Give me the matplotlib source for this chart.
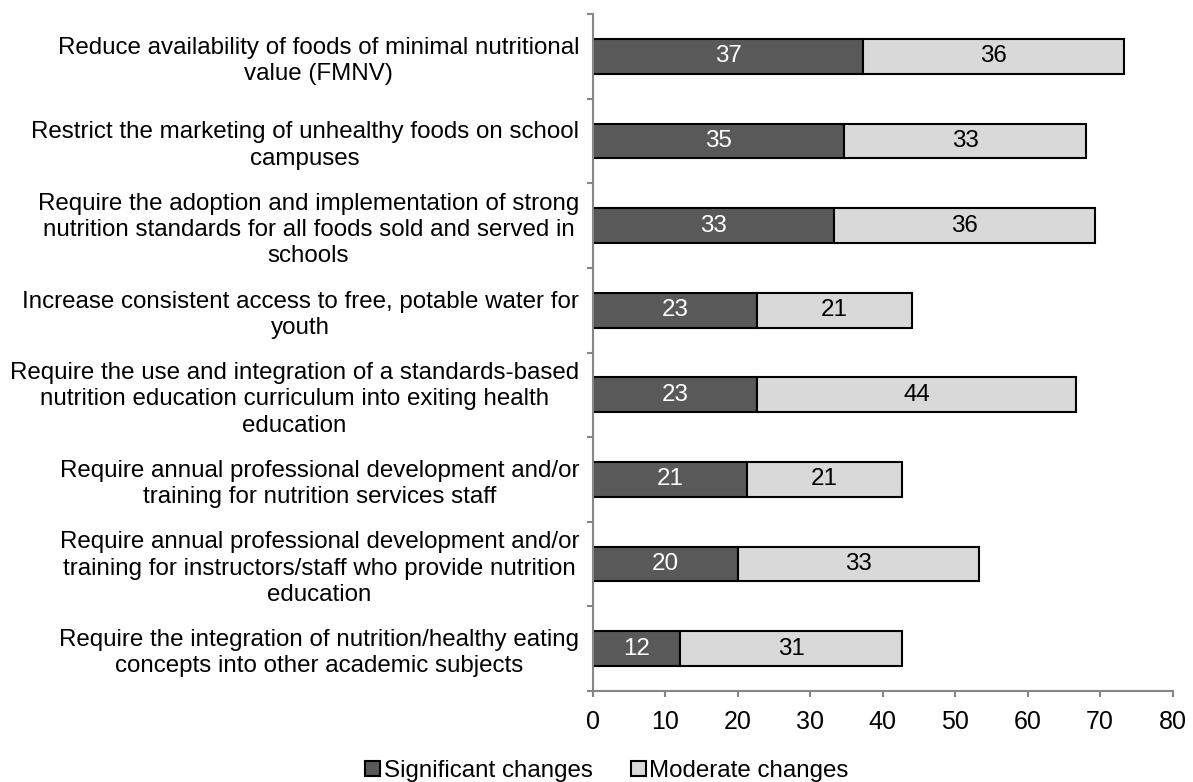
import matplotlib
matplotlib.use("Agg")
import matplotlib.pyplot as plt
import numpy as np

plt.rcParams['font.family'] = ['Liberation Sans', 'DejaVu Sans']

categories = [
    "Reduce availability of foods of minimal nutritional\nvalue (FMNV)",
    "Restrict the marketing of unhealthy foods on school\ncampuses",
    "Require the adoption and implementation of strong\nnutrition standards for all foods sold and served in\nschools",
    "Increase consistent access to free, potable water for\nyouth",
    "Require the use and integration of a standards-based\nnutrition education curriculum into exiting health\neducation",
    "Require annual professional development and/or\ntraining for nutrition services staff",
    "Require annual professional development and/or\ntraining for instructors/staff who provide nutrition\neducation",
    "Require the integration of nutrition/healthy eating\nconcepts into other academic subjects",
]
significant = [37.3, 34.7, 33.3, 22.7, 22.7, 21.3, 20.0, 12.0]
moderate = [36.0, 33.3, 36.0, 21.3, 44.0, 21.3, 33.3, 30.7]
x_ticks = [0, 10, 20, 30, 40, 50, 60, 70, 80]

dark = "#595959"
light = "#d9d9d9"
axis_gray = "#868686"
fs = 17.4

W, H = 1193, 782
fig = plt.figure(figsize=(W / 100, H / 100), dpi=100)
ax = fig.add_axes([593 / W, 1 - 691 / H, (1172.5 - 593) / W, (691 - 14) / H])

n = len(categories)
y = np.arange(n)
h = 0.41
sig = np.array(significant)
mod = np.array(moderate)

b1 = ax.barh(y, sig, height=h, color=dark, edgecolor="black", linewidth=1.5,
             label="Significant changes")
b2 = ax.barh(y, mod, left=sig, height=h, color=light, edgecolor="black", linewidth=1.5,
             label="Moderate changes")

for yi, s, m in zip(y, sig, mod):
    ax.text(s / 2, yi, f"{s:.0f}", ha="center", va="center", color="white", fontsize=fs)
    ax.text(s + m / 2, yi, f"{m:.0f}", ha="center", va="center", color="black", fontsize=fs)

ax.set_xlim(0, 80)
ax.set_ylim(n - 0.5, -0.5)
ax.set_xticks(x_ticks)
ax.set_xticklabels([str(t) for t in x_ticks], fontsize=fs + 0.6)

# category boundaries get tick marks, centres carry the labels
ax.set_yticks(np.arange(-0.5, n, 1.0))
ax.set_yticklabels([])
ax.set_yticks(y, minor=True)
ax.set_yticklabels(categories, minor=True, fontsize=fs, multialignment="center",
                   linespacing=1.25)
ax.tick_params(axis="y", which="minor", length=0, pad=10)
ax.tick_params(axis="y", which="major", length=4.5, width=1.5, color=axis_gray, direction="out")
ax.tick_params(axis="x", which="major", length=4.5, width=1.5, color=axis_gray, direction="out", pad=9)

for side in ("top", "right"):
    ax.spines[side].set_visible(False)
for side in ("left", "bottom"):
    ax.spines[side].set_color(axis_gray)
    ax.spines[side].set_linewidth(1.5)

fig.legend(handles=[b1, b2], loc="center", bbox_to_anchor=(607 / W, 1 - 771 / H),
           ncol=2, frameon=False, fontsize=fs, handlelength=0.6, handleheight=0.6,
           handletextpad=0.15, columnspacing=1.6, borderpad=0)

fig.savefig("out.png", dpi=100)
